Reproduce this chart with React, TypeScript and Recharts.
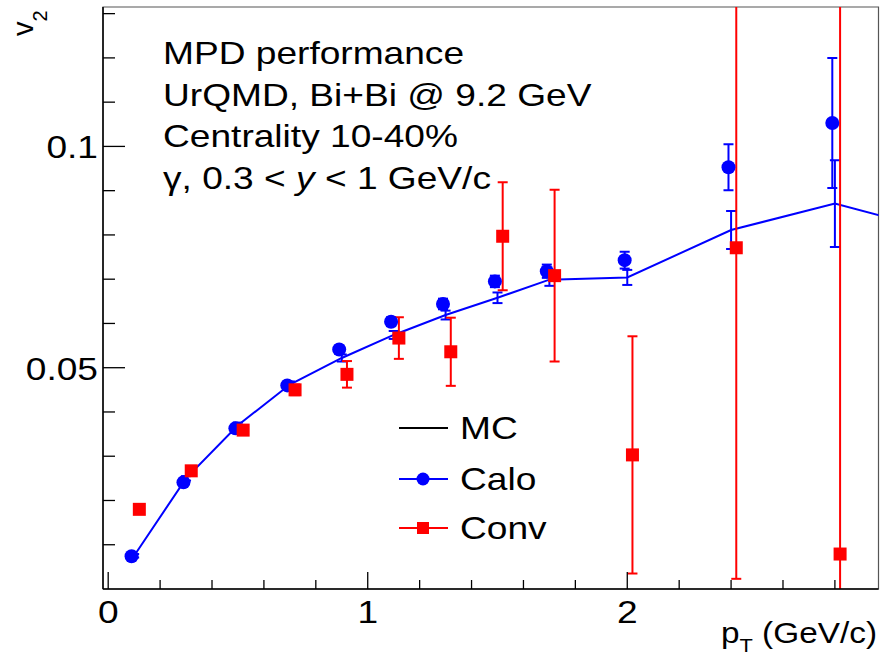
import React from 'react';
import { ComposedChart, Line, Scatter, XAxis, YAxis, ErrorBar, ReferenceArea } from 'recharts';

// MC (drawn as blue line with small errors)
const mcX = [0.1, 0.3, 0.5, 0.7, 0.9, 1.1, 1.3, 1.5, 1.7, 2.0, 2.4, 2.8, 3.2];
const mcY = [0.0075, 0.025, 0.037, 0.0462, 0.0522, 0.0574, 0.0619, 0.0658, 0.0699, 0.0704, 0.0811, 0.0871, 0.0809];
const mcErr = [0.0004, 0.0005, 0.0006, 0.0007, 0.0008, 0.0009, 0.001, 0.0012, 0.0014, 0.0017, 0.0043, 0.0098, 0.01];

// Calo
const caloX = [0.09, 0.29, 0.49, 0.69, 0.89, 1.09, 1.29, 1.49, 1.69, 1.99, 2.39, 2.79];
const caloY = [0.0074, 0.0241, 0.0363, 0.046, 0.0541, 0.0604, 0.0644, 0.0695, 0.0718, 0.0743, 0.0953, 0.1053];
const caloErr = [0.0005, 0.0006, 0.0007, 0.0008, 0.0009, 0.001, 0.0012, 0.0013, 0.0015, 0.0019, 0.0052, 0.0147];

// Conv
const convX = [0.12, 0.32, 0.52, 0.72, 0.92, 1.12, 1.32, 1.52, 1.72, 2.02, 2.42, 2.82];
const convY = [0.018, 0.0267, 0.0359, 0.045, 0.0485, 0.0567, 0.0536, 0.0797, 0.0708, 0.0303, 0.0771, 0.0079];
const convErr = [0.0008, 0.0009, 0.001, 0.0012, 0.003, 0.0047, 0.0077, 0.0122, 0.0194, 0.0268, 0.0748, 0.14];

const xTicks = [0, 0.2, 0.4, 0.6, 0.8, 1, 1.2, 1.4, 1.6, 1.8, 2, 2.2, 2.4, 2.6, 2.8];
const xTickLabels: Record<string, string> = { '0': '0', '1': '1', '2': '2' };
const yTicks = [0.01, 0.02, 0.03, 0.04, 0.05, 0.06, 0.07, 0.08, 0.09, 0.1, 0.11, 0.12, 0.13];
const yTickLabels: Record<string, string> = { '0.05': '0.05', '0.1': '0.1' };

const X_DOMAIN: [number, number] = [-0.02, 2.968];
const Y_DOMAIN: [number, number] = [0, 0.1315];

const annotation = ['MPD performance', 'UrQMD, Bi+Bi @ 9.2 GeV', 'Centrality 10-40%'];

const zip = (xs: number[], ys: number[], es: number[]) => xs.map((x, i) => ({ x, y: ys[i], err: es[i] }));
const mcData = zip(mcX, mcY, mcErr);
const caloData = zip(caloX, caloY, caloErr);
const convData = zip(convX, convY, convErr);

const FONT = '"Liberation Sans", Arial, sans-serif';
const SX = 1.16;

const XTick = (props: any) => {
  const { x, y, payload } = props;
  const key = String(payload.value);
  const major = key in xTickLabels;
  return (
    <g>
      <line x1={x} x2={x} y1={y} y2={y - (major ? 17 : 9)} stroke="#000" strokeWidth={1.3} />
      {major && (
        <text transform={`translate(${x},${623}) scale(${SX},1)`} textAnchor="middle" fontSize={32} fontFamily={FONT} fill="#000">
          {xTickLabels[key]}
        </text>
      )}
    </g>
  );
};

const YTick = (props: any) => {
  const { x, y, payload } = props;
  const key = String(Math.round(payload.value * 1000) / 1000);
  const major = key in yTickLabels;
  return (
    <g>
      <line x1={x} x2={x + (major ? 22 : 12)} y1={y} y2={y} stroke="#000" strokeWidth={1.3} />
      {major && (
        <text transform={`translate(${x - 5},${y + 12}) scale(${SX},1)`} textAnchor="end" fontSize={32} fontFamily={FONT} fill="#000">
          {yTickLabels[key]}
        </text>
      )}
    </g>
  );
};

const CaloShape = (p: any) => <circle cx={p.cx} cy={p.cy} r={7} fill="#0000ff" />;
const ConvShape = (p: any) => <rect x={p.cx - 6.5} y={p.cy - 6.5} width={13} height={13} fill="#ff0000" />;

const clipCss = `
.plot-wrap .recharts-scatter,
.plot-wrap .recharts-line,
.plot-wrap .recharts-errorBars,
.plot-wrap .recharts-errorBar,
.plot-wrap g[class*="errorBar"],
.plot-wrap g[class*="error-bar"] {
  clip-path: inset(7px 9.5px 71px 103px) view-box;
}
`;

export default function App() {
  return (
    <div className="plot-wrap" style={{ position: 'absolute', left: 0, top: 0, width: 888, height: 660, background: '#fff' }}>
      <style>{clipCss}</style>
      <ComposedChart width={888} height={660} margin={{ top: 7, right: 9.5, bottom: 41, left: 43 }}>
        <XAxis
          dataKey="x"
          type="number"
          domain={X_DOMAIN}
          allowDataOverflow
          ticks={xTicks}
          interval={0}
          tickSize={0}
          tickMargin={0}
          tick={<XTick />}
          axisLine={{ stroke: '#000', strokeWidth: 1.5 }}
          height={30}
        />
        <YAxis
          type="number"
          domain={Y_DOMAIN}
          allowDataOverflow
          ticks={yTicks}
          interval={0}
          tickSize={0}
          tickMargin={0}
          tick={<YTick />}
          axisLine={{ stroke: '#000', strokeWidth: 1.5 }}
          width={60}
        />
        <ReferenceArea x1={X_DOMAIN[0]} x2={X_DOMAIN[1]} y1={Y_DOMAIN[0]} y2={Y_DOMAIN[1]} fill="none" stroke="#555" strokeWidth={1.2} ifOverflow="visible" />
        <Line data={mcData} dataKey="y" stroke="#0000ff" strokeWidth={2} dot={false} isAnimationActive={false} type="linear">
          <ErrorBar dataKey="err" direction="y" width={5} stroke="#0000ff" strokeWidth={2} />
        </Line>
        <Scatter data={caloData} dataKey="y" shape={CaloShape} isAnimationActive={false}>
          <ErrorBar dataKey="err" direction="y" width={5} stroke="#0000ff" strokeWidth={2} />
        </Scatter>
        <Scatter data={convData} dataKey="y" shape={ConvShape} isAnimationActive={false}>
          <ErrorBar dataKey="err" direction="y" width={5} stroke="#ff0000" strokeWidth={2} />
        </Scatter>
      </ComposedChart>
      <svg width={888} height={660} style={{ position: 'absolute', left: 0, top: 0, pointerEvents: 'none' }}>
        <g fontFamily={FONT} fill="#000">
          {annotation.map((t, i) => (
            <text key={t} transform={`translate(163,${64 + i * 41.5}) scale(${SX},1)`} fontSize={32}>
              {t}
            </text>
          ))}
          <text transform={`translate(163,${64 + 3 * 41.5}) scale(${SX},1)`} fontSize={32}>
            γ, 0.3 &lt; <tspan fontStyle="italic">y</tspan> &lt; 1 GeV/c
          </text>
          {/* axis titles */}
          <text transform="translate(877,643) scale(1.15,1)" textAnchor="end" fontSize={29}>
            p<tspan fontSize={19} dy={9}>T</tspan>
            <tspan dy={-9}> (GeV/c)</tspan>
          </text>
          <text transform="translate(33,36) rotate(-90)" fontSize={29}>
            v<tspan fontSize={20} dy={14}>2</tspan>
          </text>
          {/* legend */}
          <line x1={399} x2={448} y1={428} y2={428} stroke="#000" strokeWidth={2} />
          <text transform={`translate(460,439) scale(${SX},1)`} fontSize={32}>MC</text>
          <line x1={399} x2={448} y1={479} y2={479} stroke="#0000ff" strokeWidth={2} />
          <circle cx={423} cy={479} r={6.5} fill="#0000ff" />
          <text transform={`translate(460,490) scale(${SX},1)`} fontSize={32}>Calo</text>
          <line x1={399} x2={448} y1={528} y2={528} stroke="#ff0000" strokeWidth={2} />
          <rect x={417} y={522} width={12} height={12} fill="#ff0000" />
          <text transform={`translate(460,539) scale(${SX},1)`} fontSize={32}>Conv</text>
        </g>
      </svg>
    </div>
  );
}
